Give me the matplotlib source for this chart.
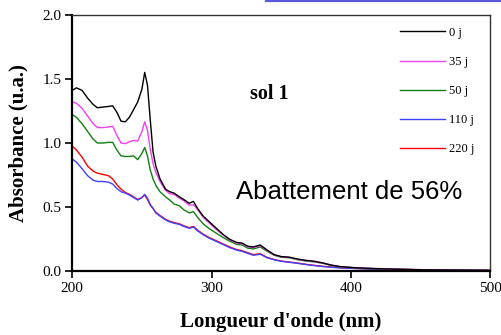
import matplotlib
matplotlib.use("Agg")
import matplotlib.pyplot as plt
from matplotlib.lines import Line2D

# wavelength grid (nm) and absorbance readings for each ageing time
wavelength = [200, 203, 207, 211, 215, 218, 222, 226, 229, 232, 235, 238, 241, 244,
              247, 250, 252, 254, 256, 258, 260, 263, 267, 270, 273, 277, 280, 284,
              287, 290, 294, 298, 303, 308, 313, 318, 322, 326, 330, 335, 340, 345,
              350, 356, 362, 368, 374, 380, 386, 392, 400, 410, 420, 435, 450, 470, 500]

abs_0j = [1.41, 1.43, 1.41, 1.35, 1.30, 1.275, 1.28, 1.285, 1.29, 1.24, 1.17, 1.165, 1.20, 1.26,
          1.32, 1.42, 1.55, 1.45, 1.18, 0.93, 0.82, 0.72, 0.64, 0.62, 0.61, 0.58, 0.56, 0.53,
          0.545, 0.49, 0.43, 0.39, 0.34, 0.29, 0.25, 0.225, 0.22, 0.195, 0.19, 0.205, 0.165, 0.13,
          0.115, 0.11, 0.095, 0.085, 0.078, 0.065, 0.048, 0.037, 0.03, 0.024, 0.02, 0.016, 0.012, 0.01, 0.007]

abs_35j = [1.32, 1.31, 1.27, 1.21, 1.15, 1.12, 1.12, 1.125, 1.13, 1.06, 1.00, 0.995, 1.01, 1.02,
           1.015, 1.09, 1.165, 1.10, 0.95, 0.84, 0.77, 0.70, 0.63, 0.605, 0.60, 0.57, 0.55, 0.515,
           0.52, 0.48, 0.42, 0.38, 0.33, 0.285, 0.245, 0.22, 0.215, 0.19, 0.185, 0.20, 0.16, 0.128,
           0.113, 0.108, 0.093, 0.083, 0.076, 0.064, 0.048, 0.037, 0.03, 0.025, 0.021, 0.017, 0.013, 0.01, 0.008]

abs_50j = [1.22, 1.20, 1.15, 1.09, 1.03, 1.00, 1.00, 1.005, 1.005, 0.945, 0.90, 0.895, 0.895, 0.90,
           0.87, 0.92, 0.965, 0.90, 0.79, 0.72, 0.67, 0.62, 0.58, 0.555, 0.525, 0.51, 0.48, 0.455,
           0.465, 0.42, 0.37, 0.335, 0.30, 0.265, 0.235, 0.21, 0.205, 0.18, 0.175, 0.19, 0.155, 0.125,
           0.11, 0.105, 0.09, 0.08, 0.073, 0.062, 0.046, 0.036, 0.029, 0.023, 0.019, 0.015, 0.012, 0.009, 0.007]

abs_110j = [0.875, 0.85, 0.80, 0.745, 0.71, 0.70, 0.70, 0.695, 0.68, 0.645, 0.62, 0.61, 0.595, 0.575,
            0.555, 0.575, 0.60, 0.57, 0.52, 0.49, 0.455, 0.43, 0.40, 0.385, 0.375, 0.365, 0.35, 0.335,
            0.345, 0.315, 0.285, 0.26, 0.235, 0.21, 0.185, 0.165, 0.155, 0.14, 0.125, 0.133, 0.105, 0.09,
            0.078, 0.07, 0.062, 0.052, 0.044, 0.037, 0.031, 0.027, 0.023, 0.019, 0.016, 0.013, 0.011, 0.009, 0.007]

abs_220j = [0.975, 0.945, 0.89, 0.82, 0.78, 0.765, 0.755, 0.745, 0.72, 0.675, 0.64, 0.615, 0.60, 0.58,
            0.56, 0.575, 0.595, 0.56, 0.515, 0.49, 0.46, 0.435, 0.405, 0.39, 0.38, 0.37, 0.355, 0.34,
            0.35, 0.32, 0.29, 0.265, 0.24, 0.215, 0.19, 0.17, 0.16, 0.145, 0.13, 0.137, 0.108, 0.092,
            0.08, 0.072, 0.064, 0.054, 0.046, 0.039, 0.033, 0.028, 0.024, 0.02, 0.017, 0.014, 0.012, 0.01, 0.008]

labels = ["0 j", "35 j", "50 j", "110 j", "220 j"]
series = [abs_0j, abs_35j, abs_50j, abs_110j, abs_220j]
colors = ["black", "#f040f0", "#108010", "#4040ff", "#ff0000"]

serif = ["Liberation Serif", "DejaVu Serif"]

fig = plt.figure(figsize=(5.02, 3.35), dpi=100)
ax = fig.add_axes([72.3 / 502, 1 - 271.3 / 335, (490 - 72.3) / 502, (271.3 - 14.7) / 335])

# draw last series first so the 0 j curve ends up on top
for y, c, lab in reversed(list(zip(series, colors, labels))):
    ax.plot(wavelength, y, color=c, linewidth=1.0, label=lab)

ax.set_xlim(200, 500)
ax.set_ylim(0.0, 2.0)
ax.set_xticks([200, 300, 400, 500])
ax.set_yticks([0.0, 0.5, 1.0, 1.5, 2.0])
ax.set_yticklabels(["0.0", "0.5", "1.0", "1.5", "2.0"])
ax.tick_params(direction="out", length=5, width=1.2, labelsize=11, pad=3)
for t in ax.get_xticklabels() + ax.get_yticklabels():
    t.set_family(serif)

for side in ("left", "bottom"):
    ax.spines[side].set_linewidth(1.6)
for side in ("top", "right"):
    ax.spines[side].set_linewidth(1.0)
    ax.spines[side].set_color("#333333")

ax.set_xlabel("Longueur d'onde (nm)", family=serif, fontweight="bold", fontsize=15, labelpad=12)
ax.set_ylabel("Absorbance (u.a.)", family=serif, fontweight="bold", fontsize=15, labelpad=10)

handles, labs = ax.get_legend_handles_labels()
leg = ax.legend(handles[::-1], labs[::-1], loc="upper left", bbox_to_anchor=(0.784, 0.953),
                frameon=False, borderpad=0, borderaxespad=0, handlelength=3.6,
                handletextpad=0.35, labelspacing=1.37, prop={"family": serif, "size": 9})

ax.text(0.425, 0.69, "sol 1", transform=ax.transAxes, family=serif, fontweight="bold",
        fontsize=14.5, ha="left", va="center")
ax.text(0.392, 0.31, "Abattement de 56%", transform=ax.transAxes,
        family=["Liberation Sans", "DejaVu Sans"], fontsize=18.5, ha="left", va="center")

# thin blue rule along the top edge of the picture
fig.add_artist(Line2D([266 / 502, 1.0], [1 - 0.8 / 335, 1 - 0.8 / 335],
                      transform=fig.transFigure, color="#5a5ad8", linewidth=1.6))

fig.savefig("out.png", dpi=100)
